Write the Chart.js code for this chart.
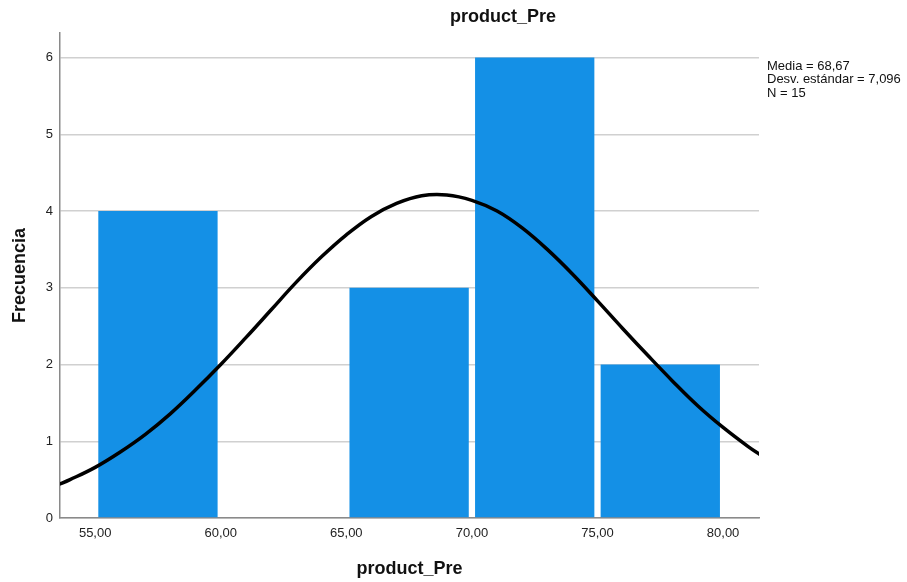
<!DOCTYPE html>
<html>
<head>
<meta charset="utf-8">
<script src="https://cdn.jsdelivr.net/npm/chart.js@4/dist/chart.umd.min.js"></script>
<style>
  html, body { margin: 0; padding: 0; background: #ffffff; }
  #wrap { width: 907px; height: 582px; }
</style>
</head>
<body>
<div id="wrap"><canvas id="hist" width="907" height="582"></canvas></div>
<script>
// Histogram bins (centre of each 5-unit class) and counts
const binCenters = [57.5, 62.5, 67.5, 72.5, 77.5];
const binCounts = [4, 0, 3, 6, 2];

// Fitted normal curve, sampled along the x axis
const curveX = [53.5, 54, 55, 56, 57, 58, 59, 60, 61, 62, 63, 64, 65, 66, 67, 68, 69,
                70, 71, 72, 73, 74, 75, 76, 77, 78, 79, 80, 81, 81.5];
const curveY = [0.43, 0.50, 0.66, 0.86, 1.09, 1.36, 1.67, 2.00, 2.35, 2.71, 3.07, 3.40, 3.69, 3.93, 4.10, 4.20, 4.21,
                4.14, 4.00, 3.78, 3.50, 3.18, 2.83, 2.47, 2.12, 1.78, 1.46, 1.18, 0.93, 0.82];

// Axis tick labels
const xTicks = [55, 60, 65, 70, 75, 80];
const yTicks = [0, 1, 2, 3, 4, 5, 6];

const chartTitle = 'product_Pre';
const xTitle = 'product_Pre';
const yTitle = 'Frecuencia';
const statsLines = ['Media = 68,67', 'Desv. estándar = 7,096', 'N = 15'];

const FONT = '"Liberation Sans", Arial, sans-serif';

// Chart heading and the summary statistics block at the right
const textPlugin = {
  id: 'textPlugin',
  afterDraw(chart) {
    const ctx = chart.ctx;
    ctx.save();
    ctx.fillStyle = '#111';
    ctx.font = 'bold 18px ' + FONT;
    ctx.textAlign = 'center';
    ctx.textBaseline = 'middle';
    ctx.fillText(chartTitle, 503, 17);
    ctx.font = '13px ' + FONT;
    ctx.textAlign = 'left';
    ctx.textBaseline = 'middle';
    statsLines.forEach((s, i) => ctx.fillText(s, 767, 66 + i * 13.5));
    ctx.restore();
  }
};

new Chart(document.getElementById('hist'), {
  type: 'bar',
  data: {
    datasets: [
      {
        type: 'line',
        data: curveX.map((x, i) => ({ x: x, y: curveY[i] })),
        borderColor: '#000000',
        borderWidth: 3.5,
        pointRadius: 0,
        tension: 0.4,
        fill: false,
        order: 0
      },
      {
        type: 'bar',
        data: binCenters.map((x, i) => ({ x: x, y: binCounts[i] })),
        backgroundColor: '#1490e6',
        borderWidth: 0,
        categoryPercentage: 1.0,
        barPercentage: 0.95,
        order: 1
      }
    ]
  },
  options: {
    responsive: false,
    animation: false,
    layout: { padding: { top: 33, right: 148, left: 0, bottom: 0 } },
    plugins: {
      legend: { display: false },
      tooltip: { enabled: false },
      title: { display: false }
    },
    scales: {
      x: {
        type: 'linear',
        min: 53.6,
        max: 81.43,
        offset: false,
        afterBuildTicks: (s) => { s.ticks = xTicks.map(v => ({ value: v })); },
        afterFit: (s) => { s.height = 64; },
        ticks: {
          color: '#222',
          font: { family: FONT, size: 13 },
          padding: 8,
          maxRotation: 0,
          callback: (v) => v.toFixed(2).replace('.', ',')
        },
        grid: { display: false, drawTicks: false },
        border: { color: '#8a8a8a', width: 1.5 },
        title: {
          display: true,
          text: xTitle,
          color: '#111',
          font: { family: FONT, size: 18, weight: 'bold' },
          padding: { top: 0, bottom: 2 }
        }
      },
      y: {
        min: 0,
        max: 6.32,
        afterBuildTicks: (s) => { s.ticks = yTicks.map(v => ({ value: v })); },
        afterFit: (s) => { s.width = 60; },
        ticks: {
          color: '#222',
          font: { family: FONT, size: 13 },
          padding: 7
        },
        grid: { color: '#d0d0d0', lineWidth: 1.5, drawTicks: false },
        border: { color: '#8a8a8a', width: 1.5 },
        title: {
          display: true,
          text: yTitle,
          color: '#111',
          font: { family: FONT, size: 18, weight: 'bold' },
          padding: { top: 9, bottom: 0 }
        }
      }
    }
  },
  plugins: [textPlugin]
});
</script>
</body>
</html>
